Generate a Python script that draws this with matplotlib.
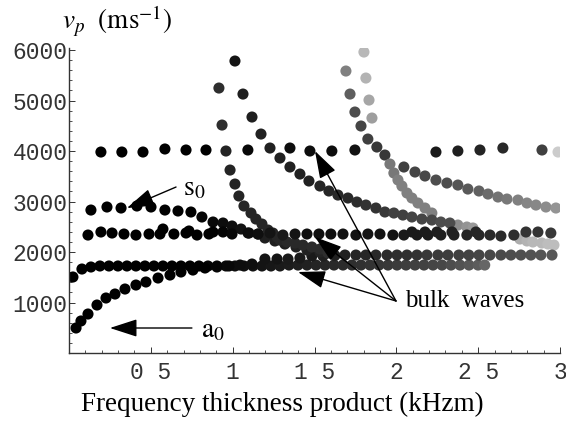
import matplotlib
matplotlib.use('Agg')
import matplotlib.pyplot as plt

plt.rcParams['mathtext.fontset'] = 'stix'

# light tail at the right end
tail_x = [2.755, 2.798, 2.834, 2.889, 2.926, 2.963]
tail_y = [2257, 2218, 2198, 2178, 2158, 2138]
tail_g = [0.68, 0.70, 0.72, 0.72, 0.74, 0.74]

# line at 4000
top_x = [0.195, 0.323, 0.452, 0.586, 0.715, 0.837, 1.093, 1.350, 1.472, 1.606, 1.747,
         2.242, 2.376, 2.511, 2.651, 2.890, 2.988]
top_y = [3980, 3980, 3980, 4040, 4020, 4020, 4020, 4059, 4000, 4000, 4020,
         3980, 4000, 4020, 4059, 4020, 3980]
top_g = [0.0, 0.0, 0.0, 0.0, 0.0, 0.0, 0.03, 0.05, 0.05, 0.05, 0.07,
         0.1, 0.12, 0.14, 0.16, 0.25, 0.8]

# a0 and the band near 1950
a0_x = [0.043, 0.073, 0.116, 0.171, 0.226, 0.281, 0.342, 0.409, 0.470, 0.544, 0.617, 0.684,
        0.757, 0.831, 0.904, 0.977, 1.045, 1.118, 1.197, 1.271, 1.338, 1.411, 1.484, 1.552,
        1.625, 1.686, 1.753, 1.814, 1.875, 1.943, 2.004, 2.065, 2.126, 2.187, 2.254, 2.315,
        2.382, 2.443, 2.505, 2.572, 2.639, 2.700, 2.761, 2.822, 2.883, 2.951]
a0_y = [495, 634, 772, 950, 1089, 1168, 1267, 1346, 1406, 1485, 1544, 1604,
        1643, 1683, 1703, 1723, 1742, 1762, 1861, 1861, 1861, 1881, 1921, 1921,
        1930, 1940, 1940, 1940, 1940, 1940, 1940, 1940, 1940, 1940, 1940, 1940,
        1940, 1940, 1940, 1940, 1940, 1940, 1940, 1940, 1940, 1940]
a0_g = [0.0, 0.0, 0.0, 0.0, 0.0, 0.0, 0.0, 0.0, 0.0, 0.0, 0.0, 0.0,
        0.0, 0.0, 0.02, 0.03, 0.05, 0.06, 0.08, 0.08, 0.1, 0.1, 0.1, 0.12,
        0.13, 0.13, 0.14, 0.15, 0.16, 0.17, 0.18, 0.19, 0.2, 0.22, 0.23, 0.24,
        0.25, 0.26, 0.27, 0.28, 0.29, 0.3, 0.31, 0.32, 0.33, 0.34]

# band near 1750
low_x = [0.024, 0.079, 0.134, 0.189, 0.244, 0.299, 0.354, 0.409, 0.464, 0.519, 0.574, 0.629,
         0.684, 0.739, 0.794, 0.849, 0.904, 0.959, 1.014, 1.069, 1.124, 1.179, 1.234, 1.289,
         1.344, 1.399, 1.454, 1.509, 1.564, 1.619, 1.674, 1.729, 1.784, 1.839, 1.894, 1.949,
         2.004, 2.059, 2.114, 2.169, 2.224, 2.279, 2.334, 2.389, 2.444, 2.499, 2.540]
low_y = [1505, 1663, 1703, 1723, 1723, 1723, 1723, 1723, 1723, 1723, 1723, 1723,
         1723, 1723, 1723, 1723, 1723, 1723, 1723, 1723, 1723, 1723, 1723, 1723,
         1742, 1742, 1742, 1742, 1742, 1742, 1742, 1742, 1742, 1742, 1742, 1742,
         1742, 1742, 1742, 1742, 1742, 1742, 1742, 1742, 1742, 1742, 1742]
low_g = [0.0, 0.0, 0.0, 0.0, 0.0, 0.0, 0.0, 0.0, 0.0, 0.0, 0.0, 0.0,
         0.0, 0.0, 0.0, 0.02, 0.03, 0.04, 0.05, 0.06, 0.07, 0.08, 0.09, 0.1,
         0.11, 0.12, 0.13, 0.14, 0.15, 0.16, 0.17, 0.18, 0.19, 0.2, 0.21, 0.22,
         0.23, 0.24, 0.25, 0.26, 0.27, 0.28, 0.3, 0.32, 0.34, 0.36, 0.4]

# band near 2350
mid_x = [0.116, 0.195, 0.263, 0.336, 0.409, 0.489, 0.556, 0.574, 0.641, 0.715, 0.733, 0.782,
         0.855, 0.880, 0.941, 0.996, 1.094, 1.155, 1.228, 1.307, 1.381, 1.454, 1.527, 1.600,
         1.674, 1.753, 1.826, 1.900, 1.979, 2.046, 2.095, 2.126, 2.175, 2.193, 2.248, 2.272,
         2.340, 2.352, 2.431, 2.486, 2.505, 2.572, 2.639, 2.718, 2.792, 2.865, 2.944]
mid_y = [2336, 2396, 2376, 2356, 2336, 2356, 2356, 2455, 2356, 2376, 2416, 2336,
         2356, 2396, 2396, 2356, 2376, 2356, 2376, 2336, 2356, 2356, 2356, 2356,
         2356, 2336, 2356, 2356, 2336, 2336, 2396, 2336, 2396, 2336, 2396, 2336,
         2396, 2336, 2336, 2396, 2336, 2336, 2316, 2336, 2396, 2396, 2376]
mid_g = [0.0, 0.0, 0.0, 0.0, 0.0, 0.0, 0.0, 0.0, 0.0, 0.0, 0.0, 0.0,
         0.0, 0.0, 0.02, 0.03, 0.05, 0.06, 0.08, 0.1, 0.08, 0.06, 0.06, 0.06,
         0.07, 0.07, 0.08, 0.08, 0.08, 0.1, 0.1, 0.1, 0.11, 0.11, 0.12, 0.12,
         0.13, 0.13, 0.14, 0.15, 0.15, 0.16, 0.17, 0.18, 0.2, 0.2, 0.22]

# s0
s0_x = [0.134, 0.232, 0.318, 0.415, 0.501, 0.586, 0.666, 0.745, 0.812, 0.880, 0.941, 0.996,
        1.051, 1.100, 1.155, 1.197, 1.258, 1.319, 1.387, 1.454, 1.533]
s0_y = [2831, 2891, 2871, 2911, 2891, 2831, 2812, 2792, 2693, 2594, 2574, 2515,
        2455, 2376, 2356, 2277, 2218, 2158, 2099, 2039, 2000]
s0_g = [0.0, 0.0, 0.0, 0.0, 0.0, 0.0, 0.0, 0.0, 0.02, 0.03, 0.05, 0.06,
        0.07, 0.08, 0.1, 0.12, 0.12, 0.12, 0.13, 0.13, 0.14]

# branch from the left, peak near x=0.92
left_x = [0.916, 0.935, 0.959, 0.984, 1.014, 1.038, 1.069, 1.112, 1.142, 1.179, 1.216, 1.246,
          1.271, 1.289, 1.332, 1.381, 1.429, 1.484, 1.533, 1.582]
left_y = [5247, 4514, 4000, 3623, 3346, 3109, 2911, 2772, 2653, 2554, 2435, 2376,
          2297, 2237, 2198, 2178, 2138, 2099, 2059, 1980]
left_g = [0.18, 0.18, 0.14, 0.14, 0.14, 0.14, 0.15, 0.15, 0.15, 0.15, 0.15, 0.15,
          0.15, 0.15, 0.16, 0.16, 0.16, 0.17, 0.17, 0.18]

# branch from the peak near x=1
peak_x = [1.014, 1.063, 1.118, 1.173, 1.228, 1.289, 1.350, 1.411, 1.466, 1.533, 1.588, 1.643,
          1.704, 1.759, 1.814, 1.875, 1.930, 1.985, 2.040, 2.095, 2.156, 2.217, 2.272, 2.327]
peak_y = [5782, 5128, 4673, 4336, 4059, 3861, 3683, 3544, 3406, 3307, 3208, 3128,
          3069, 2990, 2930, 2871, 2792, 2772, 2732, 2693, 2653, 2633, 2594, 2574]
peak_g = [0.08, 0.12, 0.12, 0.13, 0.13, 0.13, 0.13, 0.13, 0.13, 0.15, 0.15, 0.16,
          0.16, 0.18, 0.2, 0.2, 0.22, 0.25, 0.25, 0.27, 0.27, 0.28, 0.3, 0.3]

# grey branch near x=1.7
grey_x = [1.692, 1.717, 1.747, 1.784, 1.826, 1.881, 1.930, 1.961, 1.985, 2.010, 2.034, 2.065,
          2.095, 2.132, 2.175, 2.217, 2.376, 2.431, 2.468]
grey_y = [5584, 5128, 4772, 4495, 4237, 4079, 3920, 3742, 3564, 3426, 3307, 3168,
          3069, 2970, 2871, 2772, 2534, 2495, 2475]
grey_g = [0.5, 0.37, 0.3, 0.27, 0.25, 0.22, 0.22, 0.47, 0.47, 0.5, 0.5, 0.5,
          0.5, 0.5, 0.5, 0.5, 0.55, 0.58, 0.6]

# light branch near x=1.8
light_x = [1.802, 1.814, 1.833, 1.851]
light_y = [5960, 5445, 5009, 4653]
light_g = [0.72, 0.7, 0.65, 0.62]

# right branch
right_x = [2.046, 2.114, 2.175, 2.242, 2.309, 2.376, 2.437, 2.505, 2.560, 2.621, 2.676, 2.743,
           2.798, 2.853, 2.914, 2.975]
right_y = [3683, 3584, 3505, 3425, 3366, 3326, 3247, 3208, 3148, 3089, 3049, 3029,
           2970, 2930, 2891, 2871]
right_g = [0.25, 0.27, 0.28, 0.3, 0.3, 0.33, 0.35, 0.38, 0.42, 0.45, 0.47, 0.5,
           0.52, 0.53, 0.55, 0.58]

y_ticks = [1000, 2000, 3000, 4000, 5000, 6000]
y_labels = ['1000', '2000', '3000', '4000', '5000', '6000']
x_ticks = [0.5, 1, 1.5, 2, 2.5, 3]
x_labels = ['0 5', '1', '1 5', '2', '2 5', '3']

fig = plt.figure(figsize=(5.66, 4.26), dpi=100)
ax = fig.add_axes([69 / 566, 73 / 426, 491 / 566, 305 / 426])

series = [
    (tail_x, tail_y, tail_g), (low_x, low_y, low_g), (a0_x, a0_y, a0_g),
    (grey_x, grey_y, grey_g), (light_x, light_y, light_g), (right_x, right_y, right_g),
    (s0_x, s0_y, s0_g), (left_x, left_y, left_g), (peak_x, peak_y, peak_g),
    (mid_x, mid_y, mid_g), (top_x, top_y, top_g),
]
for xs, ys, gs in series:
    ax.scatter(xs, ys, c=[str(g) for g in gs], s=64, linewidths=0, zorder=2)

ax.set_xlim(0, 3)
ax.set_ylim(0, 6040)
ax.spines['top'].set_visible(False)
ax.spines['right'].set_visible(False)
for side in ['left', 'bottom']:
    ax.spines[side].set_linewidth(1.0)
    ax.spines[side].set_color('#333333')

ax.set_xticks(x_ticks)
ax.set_xticklabels(x_labels)
ax.set_yticks(y_ticks)
ax.set_yticklabels(y_labels)
ax.set_xticks([i / 10 for i in range(1, 30)], minor=True)
ax.set_yticks([i * 200 for i in range(1, 31)], minor=True)
ax.tick_params(which='major', direction='in', length=4, width=0.7, color='#333333')
ax.tick_params(which='minor', direction='in', length=2.5, width=0.6, color='#333333')
ax.tick_params(axis='x', which='major', pad=6, labelsize=16.5, labelcolor='#333333')
ax.tick_params(axis='y', which='major', pad=1, labelsize=16.5, labelcolor='#333333')
for lab in ax.get_xticklabels() + ax.get_yticklabels():
    lab.set_family('Liberation Mono')

arrow = dict(arrowstyle='-|>,head_length=1.7,head_width=0.55', color='black', lw=1.0,
             shrinkA=0, shrinkB=0, mutation_scale=10)
ax.annotate('', xy=(0.354, 2871), xytext=(0.654, 3287), arrowprops=arrow, annotation_clip=False)
ax.annotate('', xy=(0.25, 495), xytext=(0.751, 495), arrowprops=arrow, annotation_clip=False)
for tip in [(1.503, 4000), (1.503, 2297), (1.399, 1604)]:
    ax.annotate('', xy=tip, xytext=(1.998, 1030), arrowprops=arrow, annotation_clip=False)

serif = 'Liberation Serif'
fig.text(183 / 566, 1 - 187 / 426, r'$\mathrm{s}_0$', fontsize=20, va='center', ha='left')
fig.text(201 / 566, 1 - 329 / 426, r'$\mathrm{a}_0$', fontsize=20, va='center', ha='left')
fig.text(405 / 566, 1 - 301 / 426, 'bulk  waves', fontsize=18, family=serif, va='center', ha='left')
fig.text(282 / 566, 1 - 404 / 426, 'Frequency thickness product (kHzm)', fontsize=19.5,
         family=serif, va='center', ha='center')
fig.text(62 / 566, 1 - 22 / 426, r'$v_p\ \ (\mathrm{ms}^{-1})$', fontsize=19.5, va='center', ha='left')

fig.savefig('out.png', dpi=100)
